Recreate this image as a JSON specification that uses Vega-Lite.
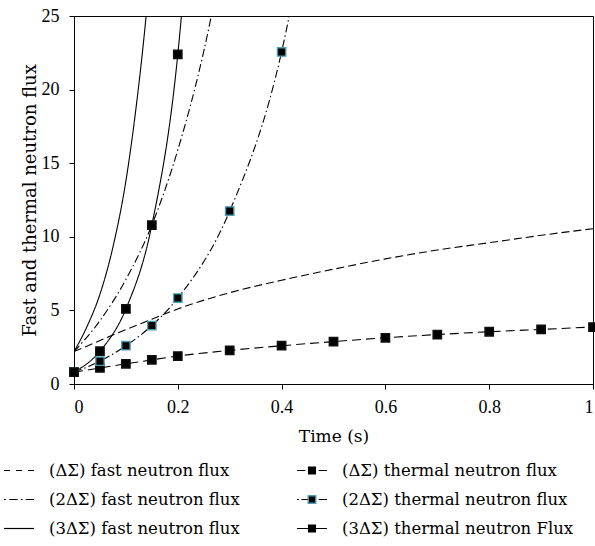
{
  "$schema": "https://vega.github.io/schema/vega-lite/v6.json",
  "autosize": {"type": "pad"},
  "padding": {"left": 4, "top": 6, "right": 0, "bottom": 0},
  "background": "white",
  "spacing": 11,
  "config": {
    "view": {"stroke": "black", "strokeWidth": 1},
    "font": "DejaVu Serif",
    "axis": {
      "grid": false,
      "domainColor": "black",
      "tickColor": "black",
      "tickSize": 5,
      "labelFont": "Liberation Serif",
      "labelFontSize": 18,
      "labelColor": "black",
      "titleFont": "DejaVu Serif",
      "titleFontSize": 17,
      "titleFontWeight": "normal",
      "titleColor": "black"
    }
  },
  "datasets": {
    "curves": [
      {"series": "(ΔΣ) fast neutron flux", "t": 0, "v": 2.2},
      {"series": "(ΔΣ) fast neutron flux", "t": 0.05, "v": 2.95},
      {"series": "(ΔΣ) fast neutron flux", "t": 0.1, "v": 3.7},
      {"series": "(ΔΣ) fast neutron flux", "t": 0.15, "v": 4.4},
      {"series": "(ΔΣ) fast neutron flux", "t": 0.2, "v": 5.1},
      {"series": "(ΔΣ) fast neutron flux", "t": 0.3, "v": 6.2},
      {"series": "(ΔΣ) fast neutron flux", "t": 0.4, "v": 7.05},
      {"series": "(ΔΣ) fast neutron flux", "t": 0.5, "v": 7.8},
      {"series": "(ΔΣ) fast neutron flux", "t": 0.6, "v": 8.5},
      {"series": "(ΔΣ) fast neutron flux", "t": 0.7, "v": 9.1},
      {"series": "(ΔΣ) fast neutron flux", "t": 0.8, "v": 9.6},
      {"series": "(ΔΣ) fast neutron flux", "t": 0.9, "v": 10.1},
      {"series": "(ΔΣ) fast neutron flux", "t": 1.0, "v": 10.55},
      {"series": "(2ΔΣ) fast neutron flux", "t": 0, "v": 2.2},
      {"series": "(2ΔΣ) fast neutron flux", "t": 0.05, "v": 4.3},
      {"series": "(2ΔΣ) fast neutron flux", "t": 0.1, "v": 7.1},
      {"series": "(2ΔΣ) fast neutron flux", "t": 0.15, "v": 10.8},
      {"series": "(2ΔΣ) fast neutron flux", "t": 0.2, "v": 15.9},
      {"series": "(2ΔΣ) fast neutron flux", "t": 0.25, "v": 22.6},
      {"series": "(2ΔΣ) fast neutron flux", "t": 0.3, "v": 31.6},
      {"series": "(3ΔΣ) fast neutron flux", "t": 0, "v": 2.2},
      {"series": "(3ΔΣ) fast neutron flux", "t": 0.025, "v": 3.9},
      {"series": "(3ΔΣ) fast neutron flux", "t": 0.05, "v": 6.1},
      {"series": "(3ΔΣ) fast neutron flux", "t": 0.075, "v": 9.3},
      {"series": "(3ΔΣ) fast neutron flux", "t": 0.1, "v": 13.8},
      {"series": "(3ΔΣ) fast neutron flux", "t": 0.12, "v": 18.9},
      {"series": "(3ΔΣ) fast neutron flux", "t": 0.14, "v": 25.4},
      {"series": "(3ΔΣ) fast neutron flux", "t": 0.16, "v": 34},
      {"series": "(ΔΣ) thermal neutron flux", "t": 0, "v": 0.8},
      {"series": "(ΔΣ) thermal neutron flux", "t": 0.05, "v": 1.09},
      {"series": "(ΔΣ) thermal neutron flux", "t": 0.1, "v": 1.37},
      {"series": "(ΔΣ) thermal neutron flux", "t": 0.15, "v": 1.64},
      {"series": "(ΔΣ) thermal neutron flux", "t": 0.2, "v": 1.9},
      {"series": "(ΔΣ) thermal neutron flux", "t": 0.3, "v": 2.28},
      {"series": "(ΔΣ) thermal neutron flux", "t": 0.4, "v": 2.6},
      {"series": "(ΔΣ) thermal neutron flux", "t": 0.5, "v": 2.88},
      {"series": "(ΔΣ) thermal neutron flux", "t": 0.6, "v": 3.14},
      {"series": "(ΔΣ) thermal neutron flux", "t": 0.7, "v": 3.36},
      {"series": "(ΔΣ) thermal neutron flux", "t": 0.8, "v": 3.55},
      {"series": "(ΔΣ) thermal neutron flux", "t": 0.9, "v": 3.71},
      {"series": "(ΔΣ) thermal neutron flux", "t": 1.0, "v": 3.87},
      {"series": "(2ΔΣ) thermal neutron flux", "t": 0, "v": 0.8},
      {"series": "(2ΔΣ) thermal neutron flux", "t": 0.05, "v": 1.55},
      {"series": "(2ΔΣ) thermal neutron flux", "t": 0.1, "v": 2.6},
      {"series": "(2ΔΣ) thermal neutron flux", "t": 0.15, "v": 3.97},
      {"series": "(2ΔΣ) thermal neutron flux", "t": 0.2, "v": 5.84},
      {"series": "(2ΔΣ) thermal neutron flux", "t": 0.3, "v": 11.75},
      {"series": "(2ΔΣ) thermal neutron flux", "t": 0.4, "v": 22.56},
      {"series": "(2ΔΣ) thermal neutron flux", "t": 0.5, "v": 43},
      {"series": "(3ΔΣ) thermal neutron Flux", "t": 0, "v": 0.8},
      {"series": "(3ΔΣ) thermal neutron Flux", "t": 0.05, "v": 2.23},
      {"series": "(3ΔΣ) thermal neutron Flux", "t": 0.1, "v": 5.1},
      {"series": "(3ΔΣ) thermal neutron Flux", "t": 0.15, "v": 10.8},
      {"series": "(3ΔΣ) thermal neutron Flux", "t": 0.2, "v": 22.4},
      {"series": "(3ΔΣ) thermal neutron Flux", "t": 0.25, "v": 46}
    ],
    "legendrows": [
      {"series": "(ΔΣ) fast neutron flux", "kind": "fast", "level": "ΔΣ"},
      {"series": "(ΔΣ) thermal neutron flux", "kind": "thermal", "level": "ΔΣ"},
      {"series": "(2ΔΣ) fast neutron flux", "kind": "fast", "level": "2ΔΣ"},
      {"series": "(2ΔΣ) thermal neutron flux", "kind": "thermal", "level": "2ΔΣ"},
      {"series": "(3ΔΣ) fast neutron flux", "kind": "fast", "level": "3ΔΣ"},
      {"series": "(3ΔΣ) thermal neutron Flux", "kind": "thermal", "level": "3ΔΣ"}
    ]
  },
  "vconcat": [
    {
      "spacing": 10,
      "hconcat": [
        {
          "width": 6,
          "height": 1,
          "view": {"stroke": null},
          "data": {"values": []},
          "mark": {"type": "point", "opacity": 0}
        },
        {
          "width": 519,
          "height": 368,
          "encoding": {
            "x": {
              "field": "t", "type": "quantitative",
              "scale": {"domain": [0, 1], "nice": false, "zero": false},
              "axis": {"values": [0, 0.2, 0.4, 0.6, 0.8, 1], "format": ".1~f", "title": "Time (s)", "labelPadding": 9, "titlePadding": 12}
            },
            "y": {
              "field": "v", "type": "quantitative",
              "scale": {"domain": [0, 25], "nice": false, "zero": false},
              "axis": {"values": [0, 5, 10, 15, 20, 25], "title": "Fast and thermal neutron flux", "labelPadding": 10, "titlePadding": 2, "titleFontSize": 18}
            }
          },
          "layer": [
            {
              "data": {"name": "curves"},
              "mark": {"type": "line", "interpolate": "monotone", "clip": true, "color": "black", "strokeWidth": 1.1},
              "encoding": {
                "detail": {"field": "series"},
                "strokeDash": {
                  "field": "series", "type": "nominal",
                  "scale": {
                    "domain": ["(ΔΣ) fast neutron flux", "(ΔΣ) thermal neutron flux", "(2ΔΣ) fast neutron flux", "(2ΔΣ) thermal neutron flux", "(3ΔΣ) fast neutron flux", "(3ΔΣ) thermal neutron Flux"],
                    "range": [[8, 4], [9, 5], [8, 3, 1.5, 3], [8, 3, 1.5, 3], [1, 0], [1, 0]]
                  },
                  "legend": null
                }
              }
            },
            {
              "data": {"name": "curves"},
              "transform": [
                {"filter": "indexof(datum.series, 'thermal') >= 0 && datum.v <= 25"}
              ],
              "mark": {"type": "square", "filled": true, "fill": "black", "size": 70, "strokeWidth": 1.4, "opacity": 1},
              "encoding": {
                "stroke": {
                  "field": "series", "type": "nominal",
                  "scale": {
                    "domain": ["(ΔΣ) thermal neutron flux", "(2ΔΣ) thermal neutron flux", "(3ΔΣ) thermal neutron Flux"],
                    "range": ["#111111", "#4e9db2", "#111111"]
                  },
                  "legend": null
                }
              }
            }
          ]
        }
      ]
    },
    {
      "width": 323,
      "height": 87,
      "view": {"stroke": null},
      "data": {"name": "legendrows"},
      "encoding": {
        "x": {"field": "kind", "type": "nominal", "scale": {"type": "point", "domain": ["fast", "thermal"], "padding": 0.0512}, "axis": null},
        "y": {"field": "level", "type": "nominal", "scale": {"type": "point", "domain": ["ΔΣ", "2ΔΣ", "3ΔΣ"], "padding": 0.5}, "axis": null}
      },
      "layer": [
        {
          "mark": {"type": "point", "filled": true, "color": "black", "size": 900, "opacity": 1, "strokeWidth": 0},
          "encoding": {
            "shape": {
              "field": "series", "type": "nominal",
              "scale": {
                "domain": ["(ΔΣ) fast neutron flux", "(ΔΣ) thermal neutron flux", "(2ΔΣ) fast neutron flux", "(2ΔΣ) thermal neutron flux", "(3ΔΣ) fast neutron flux", "(3ΔΣ) thermal neutron Flux"],
                "range": [
                  "M-1,-0.04H-0.6V0.04H-1Z M-0.2,-0.04H0.2V0.04H-0.2Z M0.6,-0.04H1V0.04H0.6Z",
                  "M-1,-0.04H-0.45V0.04H-1Z M-0.27,-0.27H0.27V0.27H-0.27Z M0.45,-0.04H1V0.04H0.45Z",
                  "M-1,-0.04H-0.88V0.04H-1Z M-0.65,-0.04H-0.1V0.04H-0.65Z M0.12,-0.04H0.24V0.04H0.12Z M0.45,-0.04H1V0.04H0.45Z",
                  "M-1,-0.04H-0.88V0.04H-1Z M-0.7,-0.04H-0.27V0.04H-0.7Z M-0.27,-0.27H0.27V0.27H-0.27Z M0.45,-0.04H1V0.04H0.45Z",
                  "M-1,-0.04H1V0.04H-1Z",
                  "M-1,-0.04H1V0.04H-1Z M-0.27,-0.27H0.27V0.27H-0.27Z"
                ]
              },
              "legend": null
            }
          }
        },
        {
          "transform": [{"filter": "datum.series == '(2ΔΣ) thermal neutron flux'"}],
          "mark": {"type": "square", "size": 56, "fill": "black", "stroke": "#4e9db2", "strokeWidth": 1.4, "opacity": 1}
        },
        {
          "mark": {"type": "text", "align": "left", "baseline": "middle", "dx": 30, "font": "DejaVu Serif", "fontSize": 16.5, "color": "black"},
          "encoding": {"text": {"field": "series"}}
        }
      ]
    }
  ]
}
